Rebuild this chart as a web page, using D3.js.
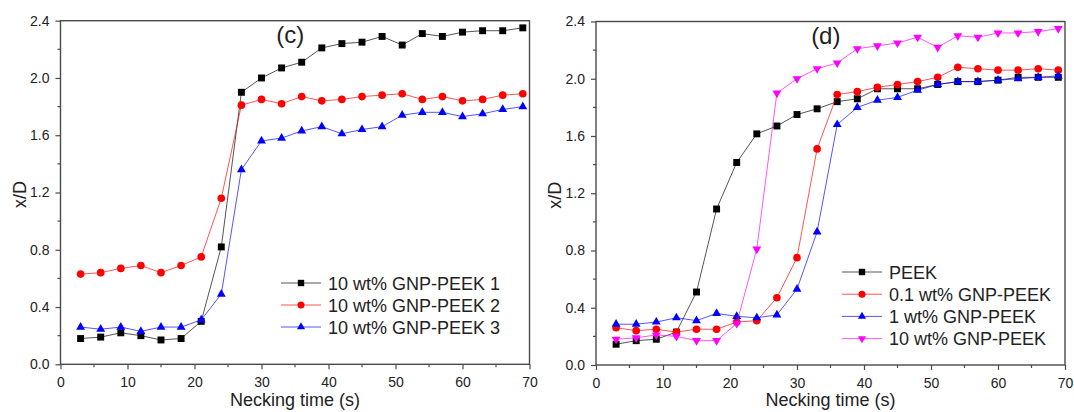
<!DOCTYPE html>
<html>
<head>
<meta charset="utf-8">
<script src="https://cdn.jsdelivr.net/npm/d3@7"></script>
<style>
  body { margin: 0; background: #fff; }
  svg text { font-family: "Liberation Sans", Arial, sans-serif; fill: #222; }
</style>
</head>
<body>
<div id="chart"></div>
<script>
// necking time (s), same for every series
var timeS = [3, 6, 9, 12, 15, 18, 21, 24, 27, 30, 33, 36, 39, 42, 45, 48, 51, 54, 57, 60, 63, 66, 69];

// panel (c): three repeats of 10 wt% GNP-PEEK
var rep1 = [0.18, 0.19, 0.22, 0.20, 0.17, 0.18, 0.30, 0.82, 1.90, 2.00, 2.07, 2.11, 2.21, 2.24, 2.25, 2.29, 2.23, 2.31, 2.29, 2.32, 2.33, 2.33, 2.35];
var rep2 = [0.63, 0.64, 0.67, 0.69, 0.64, 0.69, 0.75, 1.16, 1.81, 1.85, 1.82, 1.87, 1.84, 1.85, 1.87, 1.88, 1.89, 1.85, 1.87, 1.84, 1.85, 1.88, 1.89];
var rep3 = [0.26, 0.245, 0.26, 0.23, 0.26, 0.26, 0.31, 0.49, 1.36, 1.56, 1.58, 1.63, 1.66, 1.61, 1.64, 1.66, 1.74, 1.76, 1.76, 1.73, 1.75, 1.78, 1.80];
var labelsC = ["10 wt% GNP-PEEK 1", "10 wt% GNP-PEEK 2", "10 wt% GNP-PEEK 3"];

// panel (d): filler loading
var peek = [0.145, 0.17, 0.18, 0.23, 0.51, 1.09, 1.415, 1.615, 1.67, 1.75, 1.79, 1.84, 1.86, 1.93, 1.93, 1.93, 1.96, 1.98, 1.98, 1.99, 2.01, 2.01, 2.01];
var gnp01 = [0.26, 0.24, 0.25, 0.23, 0.25, 0.25, 0.30, 0.31, 0.47, 0.75, 1.51, 1.89, 1.91, 1.94, 1.96, 1.98, 2.01, 2.08, 2.07, 2.06, 2.06, 2.07, 2.06];
var gnp1 = [0.285, 0.285, 0.30, 0.33, 0.31, 0.36, 0.34, 0.33, 0.35, 0.53, 0.93, 1.68, 1.80, 1.85, 1.87, 1.92, 1.96, 1.98, 1.98, 1.99, 2.00, 2.01, 2.02];
var gnp10 = [0.18, 0.19, 0.21, 0.20, 0.17, 0.17, 0.29, 0.81, 1.90, 2.00, 2.07, 2.11, 2.21, 2.23, 2.25, 2.29, 2.22, 2.30, 2.29, 2.32, 2.32, 2.33, 2.35];
var labelsD = ["PEEK", "0.1 wt% GNP-PEEK", "1 wt% GNP-PEEK", "10 wt% GNP-PEEK"];

var xTicks = [0, 10, 20, 30, 40, 50, 60, 70];
var yTicks = [0, 0.4, 0.8, 1.2, 1.6, 2.0, 2.4];

var width = 1074, height = 412;
var axisColor = "#4a4a4a";

var svg = d3.select("#chart")
    .append("svg")
    .attr("width", width)
    .attr("height", height);

var styles = [
    {color: "#000000", shape: d3.symbolSquare, size: 48, rot: 0},
    {color: "#ff0000", shape: d3.symbolCircle, size: 46, rot: 0},
    {color: "#0000ff", shape: d3.symbolTriangle, size: 34, rot: 0},
    {color: "#ff00ff", shape: d3.symbolTriangle, size: 34, rot: 180}
];

function drawPanel(p) {
    var x = d3.scaleLinear().domain([0, 70]).range([p.left, p.right]);
    var y = d3.scaleLinear().domain([0, 2.4]).range([p.bottom, p.top]);

    var g = svg.append("g");

    // minor ticks
    var xMinor = d3.range(5, 70, 10);
    var yMinor = d3.range(0.2, 2.4, 0.4);
    g.selectAll(".xminor").data(xMinor).enter().append("line")
        .attr("x1", d => x(d)).attr("x2", d => x(d))
        .attr("y1", p.bottom).attr("y2", p.bottom + 3)
        .attr("stroke", axisColor).attr("stroke-width", 1.2);
    g.selectAll(".yminor").data(yMinor).enter().append("line")
        .attr("x1", p.left - 3).attr("x2", p.left)
        .attr("y1", d => y(d)).attr("y2", d => y(d))
        .attr("stroke", axisColor).attr("stroke-width", 1.2);

    var xAxis = d3.axisBottom(x).tickValues(xTicks).tickSize(5).tickPadding(8).tickFormat(d3.format("d"));
    var yAxis = d3.axisLeft(y).tickValues(yTicks).tickSize(5).tickPadding(6).tickFormat(d3.format(".1f"));

    var gx = g.append("g").attr("transform", `translate(0, ${p.bottom})`).call(xAxis);
    var gy = g.append("g").attr("transform", `translate(${p.left}, 0)`).call(yAxis);
    [gx, gy].forEach(function(a) {
        a.select(".domain").remove();
        a.selectAll("line").attr("stroke", axisColor).attr("stroke-width", 1.2);
        a.selectAll("text").style("font-size", "14px").attr("fill", "#222");
    });

    // frame
    g.append("rect")
        .attr("x", p.left).attr("y", p.top)
        .attr("width", p.right - p.left).attr("height", p.bottom - p.top)
        .attr("fill", "none").attr("stroke", axisColor).attr("stroke-width", 1.4);

    var line = d3.line().x((d, i) => x(timeS[i])).y(d => y(d));

    p.series.forEach(function(vals, k) {
        var st = styles[p.styleIdx[k]];
        g.append("path")
            .datum(vals)
            .attr("d", line)
            .attr("fill", "none")
            .attr("stroke", st.color)
            .attr("stroke-opacity", 0.75)
            .attr("stroke-width", 0.9);
        g.selectAll(".pt" + k).data(vals).enter().append("path")
            .attr("d", d3.symbol().type(st.shape).size(st.size))
            .attr("transform", (d, i) => `translate(${x(timeS[i])}, ${y(d)}) rotate(${st.rot})`)
            .attr("fill", st.color);
    });

    // legend
    p.labels.forEach(function(lab, k) {
        var st = styles[p.styleIdx[k]];
        var ly = p.legY + k * p.legStep;
        g.append("line")
            .attr("x1", p.legX).attr("x2", p.legX + 40)
            .attr("y1", ly).attr("y2", ly)
            .attr("stroke", st.color).attr("stroke-opacity", 0.75).attr("stroke-width", 0.9);
        g.append("path")
            .attr("d", d3.symbol().type(st.shape).size(st.size * 0.85))
            .attr("transform", `translate(${p.legX + 20}, ${ly}) rotate(${st.rot})`)
            .attr("fill", st.color);
        g.append("text")
            .attr("x", p.legX + 47).attr("y", ly + 6.5)
            .style("font-size", "18px")
            .text(lab);
    });

    g.append("text")
        .attr("x", x(34.3)).attr("y", p.top + 22)
        .attr("text-anchor", "middle")
        .style("font-size", "24px")
        .text(p.tag);

    g.append("text")
        .attr("x", (p.left + p.right) / 2).attr("y", 405.5)
        .attr("text-anchor", "middle")
        .style("font-size", "18px")
        .text("Necking time (s)");

    g.append("text")
        .attr("transform", `translate(${p.left - 35}, ${(p.top + p.bottom) / 2 + 2}) rotate(-90)`)
        .attr("text-anchor", "middle")
        .style("font-size", "18px")
        .text("x/D");
}

drawPanel({
    left: 60.5, right: 529.5, top: 20.7, bottom: 364.3,
    series: [rep1, rep2, rep3], styleIdx: [0, 1, 2], labels: labelsC,
    legX: 281, legY: 283, legStep: 22, tag: "(c)"
});

drawPanel({
    left: 596, right: 1065, top: 21.5, bottom: 365,
    series: [peek, gnp01, gnp1, gnp10], styleIdx: [0, 1, 2, 3], labels: labelsD,
    legX: 842, legY: 272, legStep: 22.2, tag: "(d)"
});
</script>
</body>
</html>
